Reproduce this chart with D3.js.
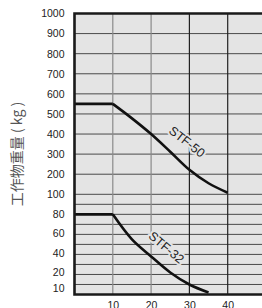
<!DOCTYPE html>
<html>
<head>
<meta charset="utf-8">
<script src="https://cdn.jsdelivr.net/npm/d3@7"></script>
<style>
  body { margin: 0; background: #fff; }
  svg { display: block; font-family: "Liberation Sans", Arial, sans-serif; }
</style>
</head>
<body>
<svg id="chart" width="262" height="308"></svg>
<script>
// stroke (mm) vs. workpiece weight (kg)
const xTicks = [10, 20, 30, 40];
const yTicks = [10, 20, 40, 60, 80, 100, 200, 300, 400, 500, 600, 700, 800, 900, 1000];
const yGrid = [10, 20, 30, 40, 50, 60, 70, 80, 90, 100, 200, 300, 400, 500, 600, 700, 800, 900];

const stf50Flat = [[0, 550], [10, 550]];
const stf50Curve = [[10, 550], [15, 478], [20, 400], [25, 312], [30, 222], [35, 155], [40, 108]];
const stf32Flat = [[0, 80], [10, 80]];
const stf32Curve = [[10, 80], [15, 55], [20, 38], [25, 22], [30, 10], [35, 2]];

const svg = d3.select("#chart");
const bg = "#e4e4e4";

const x = d3.scaleLinear().domain([0, 50]).range([74.5, 266]);
// two-part scale: 0-100 stretched, 100-1000 compressed
const y = d3.scaleLinear().domain([0, 100, 1000]).range([294.5, 194.3, 13.5]);

svg.append("rect")
  .attr("x", x(0)).attr("y", y(1000))
  .attr("width", x(50) - x(0)).attr("height", y(0) - y(1000))
  .attr("fill", bg);

// horizontal grid
svg.append("g").selectAll("line")
  .data(yGrid)
  .enter().append("line")
    .attr("x1", x(0)).attr("x2", x(50))
    .attr("y1", d => y(d)).attr("y2", d => y(d))
    .attr("stroke", "#4a4a4a")
    .attr("stroke-width", 1);

// vertical grid
svg.append("g").selectAll("line")
  .data(xTicks)
  .enter().append("line")
    .attr("x1", d => x(d)).attr("x2", d => x(d))
    .attr("y1", y(1000)).attr("y2", y(0))
    .attr("stroke", d => d <= 20 ? "#8a8a8a" : "#222")
    .attr("stroke-width", 1.2);

// curves
const line = d3.line().x(d => x(d[0])).y(d => y(d[1]));
const curve = d3.line().x(d => x(d[0])).y(d => y(d[1])).curve(d3.curveCatmullRom.alpha(0.5));

[stf50Flat, stf32Flat].forEach(p => {
  svg.append("path").attr("d", line(p))
    .attr("fill", "none").attr("stroke", "#111").attr("stroke-width", 2.6);
});
[stf50Curve, stf32Curve].forEach(p => {
  svg.append("path").attr("d", curve(p))
    .attr("fill", "none").attr("stroke", "#111").attr("stroke-width", 2.6);
});

// curve labels
const labels = [
  {text: "STF-50", x: 29.4, y: 362, angle: 38},
  {text: "STF-32", x: 24.0, y: 47, angle: 40}
];
svg.append("g").selectAll("text")
  .data(labels)
  .enter().append("text")
    .attr("transform", d => `translate(${x(d.x)},${y(d.y)}) rotate(${d.angle})`)
    .attr("text-anchor", "middle")
    .attr("dy", "0.35em")
    .attr("font-size", 12.5)
    .attr("fill", "#222")
    .attr("stroke", bg)
    .attr("stroke-width", 4)
    .attr("paint-order", "stroke")
    .text(d => d.text);

// frame: left, top, bottom
svg.append("path")
  .attr("d", `M${x(50)},${y(1000)}H${x(0)}V${y(0)}H${x(50)}`)
  .attr("fill", "none")
  .attr("stroke", "#1a1a1a")
  .attr("stroke-width", 2.6);

// axes
const nudge = {10: 4, 20: -2.5, 40: -1.5, 60: -1};
const yAxis = svg.append("g")
  .attr("transform", `translate(${x(0) - 2},0)`)
  .call(d3.axisLeft(y).tickValues(yTicks).tickFormat(d3.format("d")).tickSize(0).tickPadding(8));
yAxis.select(".domain").remove();
yAxis.selectAll("text").attr("font-size", 10.5).attr("fill", "#222")
  .attr("y", d => nudge[d] || 0)
  .attr("font-family", "Liberation Sans, Arial, sans-serif");

const xAxis = svg.append("g")
  .attr("transform", `translate(0,${y(0)})`)
  .call(d3.axisBottom(x).tickValues(xTicks).tickSize(0).tickPadding(7));
xAxis.select(".domain").remove();
xAxis.selectAll("text").attr("font-size", 10.5).attr("fill", "#222")
  .attr("font-family", "Liberation Sans, Arial, sans-serif");

// y title
svg.append("text")
  .attr("transform", `translate(17,154) rotate(-90)`)
  .attr("text-anchor", "middle")
  .attr("dy", "0.35em")
  .attr("font-size", 14)
  .attr("fill", "#555")
  .attr("font-family", "Noto Sans CJK JP, sans-serif")
  .text("工作物重量 ( kg )");
</script>
</body>
</html>
